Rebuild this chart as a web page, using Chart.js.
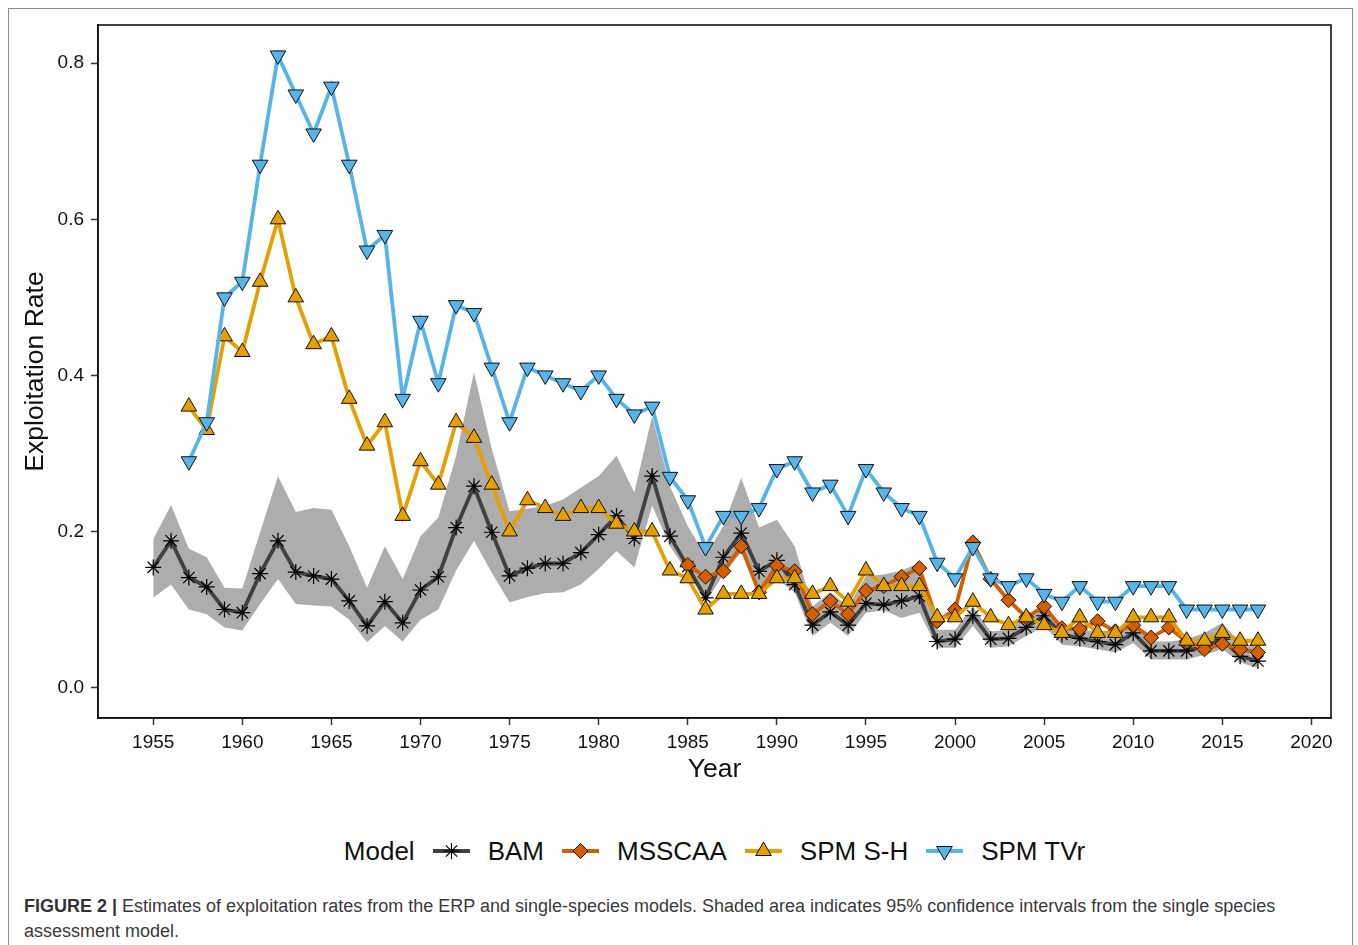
<!DOCTYPE html>
<html>
<head>
<meta charset="utf-8">
<script src="https://cdn.jsdelivr.net/npm/chart.js@4.4.0/dist/chart.umd.min.js"></script>
<style>
  html, body { margin: 0; padding: 0; background: #fff; }
  body { width: 1358px; height: 945px; position: relative; overflow: hidden;
         font-family: "Liberation Sans", Arial, sans-serif; }
  #frame { position: absolute; left: 8px; top: 8px; width: 1345px; height: 960px;
           border: 1px solid #8a8a8a; box-sizing: border-box; }
  #chart { position: absolute; left: 0; top: 0; }
  #legend { position: absolute; left: 98px; width: 1233px; top: 834px; height: 34px;
            display: flex; justify-content: center; align-items: center; gap: 18px;
            font-size: 26px; color: #111; }
  #legend svg { display: block; }
  #caption { position: absolute; left: 24px; top: 894px; font-size: 18px; line-height: 25px;
             color: #3a3a3a; white-space: nowrap; }
  #caption b { color: #333; }
</style>
</head>
<body>
<div id="frame"></div>
<canvas id="chart" width="1358" height="800"></canvas>
<div id="legend"></div>
<div id="caption"><b>FIGURE 2 |</b> Estimates of exploitation rates from the ERP and single-species models. Shaded area indicates 95% confidence intervals from the single species<br>assessment model.</div>
<script>
// Exploitation rate estimates by model, 1955-2017
const years = [
  1955, 1956, 1957, 1958, 1959, 1960, 1961, 1962, 1963, 1964,
  1965, 1966, 1967, 1968, 1969, 1970, 1971, 1972, 1973, 1974,
  1975, 1976, 1977, 1978, 1979, 1980, 1981, 1982, 1983, 1984,
  1985, 1986, 1987, 1988, 1989, 1990, 1991, 1992, 1993, 1994,
  1995, 1996, 1997, 1998, 1999, 2000, 2001, 2002, 2003, 2004,
  2005, 2006, 2007, 2008, 2009, 2010, 2011, 2012, 2013, 2014,
  2015, 2016, 2017
];

const bam = [
  0.154, 0.188, 0.141, 0.129, 0.100, 0.096, 0.146, 0.188, 0.148, 0.143,
  0.139, 0.111, 0.079, 0.110, 0.083, 0.125, 0.142, 0.205, 0.258, 0.199,
  0.143, 0.153, 0.159, 0.159, 0.173, 0.196, 0.220, 0.191, 0.271, 0.194,
  0.155, 0.115, 0.167, 0.198, 0.149, 0.163, 0.132, 0.080, 0.097, 0.080,
  0.108, 0.106, 0.111, 0.117, 0.059, 0.062, 0.092, 0.062, 0.063, 0.077,
  0.092, 0.068, 0.063, 0.059, 0.055, 0.070, 0.047, 0.047, 0.047, 0.053,
  0.062, 0.040, 0.034
];

const bamUpper = [
  0.190, 0.234, 0.178, 0.167, 0.128, 0.127, 0.199, 0.271, 0.225, 0.230,
  0.228, 0.181, 0.128, 0.181, 0.139, 0.194, 0.218, 0.297, 0.404, 0.306,
  0.226, 0.229, 0.233, 0.241, 0.256, 0.271, 0.297, 0.250, 0.348, 0.258,
  0.207, 0.169, 0.207, 0.269, 0.205, 0.215, 0.181, 0.104, 0.122, 0.104,
  0.143, 0.145, 0.150, 0.160, 0.074, 0.074, 0.104, 0.072, 0.074, 0.092,
  0.104, 0.079, 0.074, 0.072, 0.068, 0.083, 0.059, 0.059, 0.062, 0.070,
  0.083, 0.057, 0.053
];

const bamLower = [
  0.115, 0.132, 0.100, 0.094, 0.077, 0.073, 0.107, 0.139, 0.107, 0.105,
  0.104, 0.087, 0.058, 0.079, 0.059, 0.087, 0.100, 0.150, 0.188, 0.147,
  0.109, 0.116, 0.121, 0.122, 0.132, 0.152, 0.175, 0.154, 0.233, 0.181,
  0.147, 0.109, 0.145, 0.173, 0.126, 0.139, 0.122, 0.066, 0.083, 0.066,
  0.096, 0.099, 0.089, 0.096, 0.051, 0.051, 0.079, 0.051, 0.053, 0.066,
  0.079, 0.055, 0.053, 0.049, 0.045, 0.057, 0.036, 0.036, 0.036, 0.042,
  0.049, 0.032, 0.025
];

const msscaa = [
  null, null, null, null, null, null, null, null, null, null,
  null, null, null, null, null, null, null, null, null, null,
  null, null, null, null, null, null, null, null, null, null,
  0.157, 0.142, 0.149, 0.181, 0.122, 0.156, 0.149, 0.094, 0.111, 0.094,
  0.124, 0.130, 0.142, 0.153, 0.085, 0.100, 0.186, 0.139, 0.112, 0.090,
  0.104, 0.076, 0.075, 0.085, 0.072, 0.080, 0.064, 0.077, 0.059, 0.049,
  0.056, 0.049, 0.045
];

const spmSH = [
  null, null, 0.36, 0.33, 0.45, 0.43, 0.52, 0.60, 0.50, 0.44,
  0.45, 0.37, 0.31, 0.34, 0.22, 0.29, 0.26, 0.34, 0.32, 0.26,
  0.20, 0.24, 0.23, 0.22, 0.23, 0.23, 0.21, 0.20, 0.20, 0.15,
  0.14, 0.10, 0.12, 0.12, 0.12, 0.14, 0.14, 0.12, 0.13, 0.11,
  0.15, 0.13, 0.13, 0.13, 0.09, 0.09, 0.11, 0.09, 0.08, 0.09,
  0.08, 0.07, 0.09, 0.07, 0.07, 0.09, 0.09, 0.09, 0.06, 0.06,
  0.07, 0.06, 0.06
];

const spmTVr = [
  null, null, 0.29, 0.34, 0.50, 0.52, 0.67, 0.81, 0.76, 0.71,
  0.77, 0.67, 0.56, 0.58, 0.37, 0.47, 0.39, 0.49, 0.48, 0.41,
  0.34, 0.41, 0.40, 0.39, 0.38, 0.40, 0.37, 0.35, 0.36, 0.27,
  0.24, 0.18, 0.22, 0.22, 0.23, 0.28, 0.29, 0.25, 0.26, 0.22,
  0.28, 0.25, 0.23, 0.22, 0.16, 0.14, 0.18, 0.14, 0.13, 0.14,
  0.12, 0.11, 0.13, 0.11, 0.11, 0.13, 0.13, 0.13, 0.10, 0.10,
  0.10, 0.10, 0.10
];

const xTicks = [1955, 1960, 1965, 1970, 1975, 1980, 1985, 1990, 1995, 2000, 2005, 2010, 2015, 2020];
const yTicks = [0.0, 0.2, 0.4, 0.6, 0.8];

const FONT = '"Liberation Sans", Arial, sans-serif';
const COLORS = {
  bam: "#404040",
  msscaa: "#D55E00",
  sh: "#E69F00",
  tvr: "#56B4E9",
  band: "#adadad",
  ink: "#111111",
};

function pts(vals) {
  return years.map((yr, i) => ({ x: yr, y: vals[i] })).filter((p) => p.y !== null);
}

// ggplot-style panel border round the plotting area
const panelBorder = {
  id: "panelBorder",
  afterDraw(chart) {
    const { ctx, chartArea: a } = chart;
    ctx.save();
    ctx.strokeStyle = COLORS.ink;
    ctx.lineWidth = 1.6;
    ctx.strokeRect(a.left, a.top, a.right - a.left, a.bottom - a.top);
    ctx.restore();
  },
};

const lineDefaults = { borderWidth: 3.8, tension: 0, pointBorderColor: "#111", pointBorderWidth: 1, pointHoverRadius: 0 };

new Chart(document.getElementById("chart"), {
  type: "line",
  data: {
    datasets: [
      { ...lineDefaults, label: "SPM TVr", data: pts(spmTVr), order: 0,
        borderColor: COLORS.tvr, pointBackgroundColor: COLORS.tvr,
        pointStyle: "triangle", pointRotation: 180, pointRadius: 9 },
      { ...lineDefaults, label: "SPM S-H", data: pts(spmSH), order: 1,
        borderColor: COLORS.sh, pointBackgroundColor: COLORS.sh,
        pointStyle: "triangle", pointRadius: 9 },
      { ...lineDefaults, label: "MSSCAA", data: pts(msscaa), order: 2,
        borderColor: COLORS.msscaa, pointBackgroundColor: COLORS.msscaa,
        pointStyle: "rectRot", pointRadius: 7.5 },
      { ...lineDefaults, label: "BAM", data: pts(bam), order: 3,
        borderColor: COLORS.bam, pointBorderColor: "#000", pointBorderWidth: 1.2,
        pointStyle: "star", pointRadius: 8 },
      { label: "upper", data: pts(bamUpper), order: 4, borderWidth: 0, pointRadius: 0,
        backgroundColor: COLORS.band, fill: "+1" },
      { label: "lower", data: pts(bamLower), order: 5, borderWidth: 0, pointRadius: 0,
        fill: false },
    ],
  },
  options: {
    responsive: false,
    animation: false,
    devicePixelRatio: 1,
    layout: { padding: { left: 10, top: 25, right: 27, bottom: 2 } },
    plugins: {
      legend: { display: false },
      tooltip: { enabled: false },
    },
    scales: {
      x: {
        type: "linear",
        min: 1951.9,
        max: 2021.1,
        afterBuildTicks: (s) => { s.ticks = xTicks.map((v) => ({ value: v })); },
        afterFit: (s) => { s.height = 80; },
        grid: { drawOnChartArea: false, tickLength: 7, tickWidth: 1.5, tickColor: "#333" },
        border: { color: COLORS.ink, width: 1.6 },
        ticks: { font: { family: FONT, size: 19 }, color: COLORS.ink, padding: 6,
                 maxRotation: 0, autoSkip: false, callback: (v) => String(v) },
        title: { display: true, text: "Year", color: COLORS.ink,
                 font: { family: FONT, size: 26.5 }, padding: { top: 0, bottom: 12 } },
      },
      y: {
        type: "linear",
        min: -0.039,
        max: 0.849,
        afterBuildTicks: (s) => { s.ticks = yTicks.map((v) => ({ value: v })); },
        afterFit: (s) => { s.width = 88; },
        grid: { drawOnChartArea: false, tickLength: 7, tickWidth: 1.5, tickColor: "#333" },
        border: { color: COLORS.ink, width: 1.6 },
        ticks: { font: { family: FONT, size: 19 }, color: COLORS.ink, padding: 7,
                 callback: (v) => v.toFixed(1) },
        title: { display: true, text: "Exploitation Rate", color: COLORS.ink,
                 font: { family: FONT, size: 26.5 }, padding: { top: 10, bottom: 0 } },
      },
    },
  },
  plugins: [panelBorder],
});

// legend: line + marker key, like the ggplot guide
function keySvg(color, marker) {
  let m = "";
  if (marker === "star") {
    m = '<g stroke="#000" stroke-width="1.2">' +
        '<line x1="18.5" y1="4" x2="18.5" y2="20"/><line x1="10.5" y1="12" x2="26.5" y2="12"/>' +
        '<line x1="12.8" y1="6.3" x2="24.2" y2="17.7"/><line x1="12.8" y1="17.7" x2="24.2" y2="6.3"/></g>';
  } else if (marker === "diamond") {
    m = `<polygon points="18.5,4.5 26,12 18.5,19.5 11,12" fill="${color}" stroke="#111" stroke-width="1"/>`;
  } else if (marker === "up") {
    m = `<polygon points="18.5,3 26.3,16.5 10.7,16.5" fill="${color}" stroke="#111" stroke-width="1"/>`;
  } else {
    m = `<polygon points="10.7,7.5 26.3,7.5 18.5,21" fill="${color}" stroke="#111" stroke-width="1"/>`;
  }
  return `<svg width="37" height="24"><line x1="0" y1="12" x2="37" y2="12" stroke="${color}" stroke-width="4"/>${m}</svg>`;
}

const legendItems = [
  ["BAM", COLORS.bam, "star"],
  ["MSSCAA", COLORS.msscaa, "diamond"],
  ["SPM S-H", COLORS.sh, "up"],
  ["SPM TVr", COLORS.tvr, "down"],
];
document.getElementById("legend").innerHTML =
  "<span>Model</span>" +
  legendItems.map(([name, c, m]) => keySvg(c, m) + `<span>${name}</span>`).join("");
</script>
</body>
</html>
